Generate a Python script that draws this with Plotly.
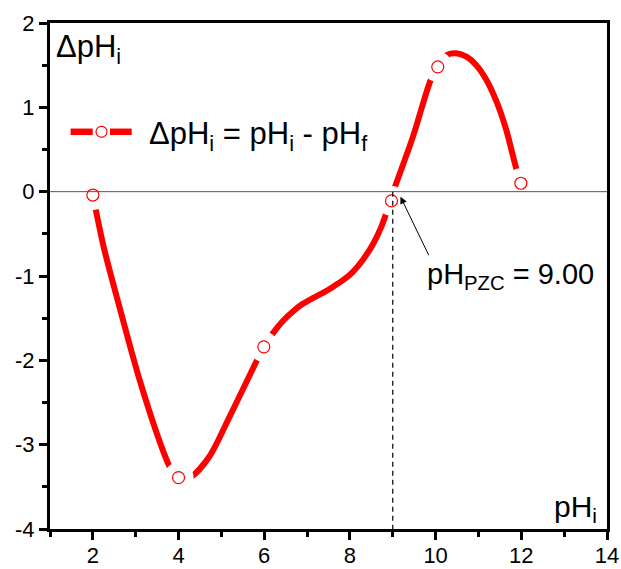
import plotly.graph_objects as go

# measured points (markers)
ph_i = [2.0, 4.0, 5.99, 8.97, 10.05, 11.99]
delta_ph = [-0.04, -3.39, -1.84, -0.11, 1.48, 0.10]

# smoothed curve
curve_ph = [2.0, 2.25, 2.66, 3.09, 3.60, 3.83, 4.02, 4.30, 4.72, 5.19, 5.81, 5.99,
            6.20, 6.44, 6.67, 6.90, 7.14, 7.37, 7.60, 7.84, 8.07, 8.30, 8.54, 8.73,
            8.97, 9.04, 9.47, 9.86, 10.05, 10.26, 10.48, 10.72, 10.95, 11.18,
            11.42, 11.65, 11.88, 12.0]
curve_dph = [-0.04, -0.65, -1.44, -2.23, -3.02, -3.30, -3.42, -3.38, -3.14, -2.67,
             -2.02, -1.84, -1.68, -1.53, -1.42, -1.33, -1.26, -1.20, -1.13, -1.05,
             -0.95, -0.81, -0.62, -0.42, -0.07, 0.04, 0.65, 1.29, 1.50, 1.62, 1.64,
             1.60, 1.50, 1.33, 1.07, 0.73, 0.28, 0.10]

x_ticks = [2, 4, 6, 8, 10, 12, 14]
y_ticks = [-4, -3, -2, -1, 0, 1, 2]
y_tick_labels = ["-4", "-3", "-2", "-1", "0", "1", "2"]
ph_pzc = 9.0

FONT = "Liberation Sans, Arial, sans-serif"
RED = "#ff0000"

fig = go.Figure()
fig.add_trace(go.Scatter(x=curve_ph, y=curve_dph, mode="lines",
                         line=dict(color=RED, width=6, shape="spline", smoothing=0.8),
                         hoverinfo="skip", showlegend=False))
# white halo creating gaps around symbols
fig.add_trace(go.Scatter(x=ph_i, y=delta_ph, mode="markers",
                         marker=dict(symbol="circle", size=30, color="white",
                                     line=dict(width=0)),
                         hoverinfo="skip", showlegend=False))
fig.add_trace(go.Scatter(x=ph_i, y=delta_ph, mode="markers",
                         marker=dict(symbol="circle", size=12, color="white",
                                     line=dict(color=RED, width=1.2)),
                         showlegend=False))

shapes = [
    dict(type="line", xref="paper", yref="y", x0=0, x1=1, y0=0, y1=0,
         line=dict(color="#555555", width=1), layer="above"),
    dict(type="line", xref="x", yref="y", x0=ph_pzc, x1=ph_pzc, y0=0, y1=-4,
         line=dict(color="black", width=1.2, dash="5px,4px"), layer="above"),
    # manual legend
    dict(type="line", xref="paper", yref="paper", x0=0.037, x1=0.0767, y0=0.785, y1=0.785,
         line=dict(color=RED, width=6.5)),
    dict(type="line", xref="paper", yref="paper", x0=0.1077, x1=0.1467, y0=0.785, y1=0.785,
         line=dict(color=RED, width=6.5)),
    dict(type="circle", xref="paper", yref="paper", xsizemode="pixel", ysizemode="pixel",
         xanchor=0.0925, yanchor=0.785, x0=-5.5, x1=5.5, y0=-5.5, y1=5.5,
         line=dict(color=RED, width=1.2), fillcolor="white"),
]

annotations = [
    dict(text="ΔpH<sub>i</sub> = pH<sub>i</sub> - pH<sub>f</sub>", xref="paper", yref="paper",
         x=0.1736, y=0.785, xanchor="left", yanchor="middle", showarrow=False,
         font=dict(family=FONT, size=31, color="black"), yshift=-4),
    dict(text="ΔpH<sub>i</sub>", xref="paper", yref="paper", x=0.008, y=0.992,
         xanchor="left", yanchor="top", showarrow=False,
         font=dict(family=FONT, size=31, color="black")),
    dict(text="pH<sub>i</sub>", xref="paper", yref="paper", x=0.986, y=0.0,
         xanchor="right", yanchor="bottom", showarrow=False,
         font=dict(family=FONT, size=30, color="black")),
    dict(text="pH<sub>PZC</sub> = 9.00", xref="paper", yref="paper", x=0.673, y=0.50,
         xanchor="left", yanchor="middle", showarrow=False,
         font=dict(family=FONT, size=29, color="black")),
    dict(text="", x=9.18, y=-0.06, xref="x", yref="y", ax=29, ay=60,
         showarrow=True, arrowhead=2, arrowsize=1.4, arrowwidth=1, arrowcolor="black",
         standoff=0),
]

axis_common = dict(showline=True, linecolor="black", linewidth=3, mirror=True,
                   ticks="outside", ticklen=8, tickwidth=2.5, tickcolor="black",
                   showgrid=False, zeroline=False, automargin=False,
                   tickfont=dict(family=FONT, size=22, color="black"))

fig.update_layout(
    width=621, height=569,
    margin=dict(l=50, r=14, t=23, b=40),
    paper_bgcolor="white", plot_bgcolor="white",
    shapes=shapes, annotations=annotations,
    xaxis=dict(range=[1, 14], tickvals=x_ticks, ticklabelstandoff=-3,
               minor=dict(ticks="outside", ticklen=5, tickwidth=2.5, tickcolor="black", dtick=1, tick0=1),
               **axis_common),
    yaxis=dict(range=[-4, 2], tickvals=y_ticks, ticktext=y_tick_labels,
               minor=dict(ticks="outside", ticklen=5, tickwidth=2.5, tickcolor="black", dtick=0.5, tick0=0),
               **axis_common),
)

fig.write_html("out.html")
